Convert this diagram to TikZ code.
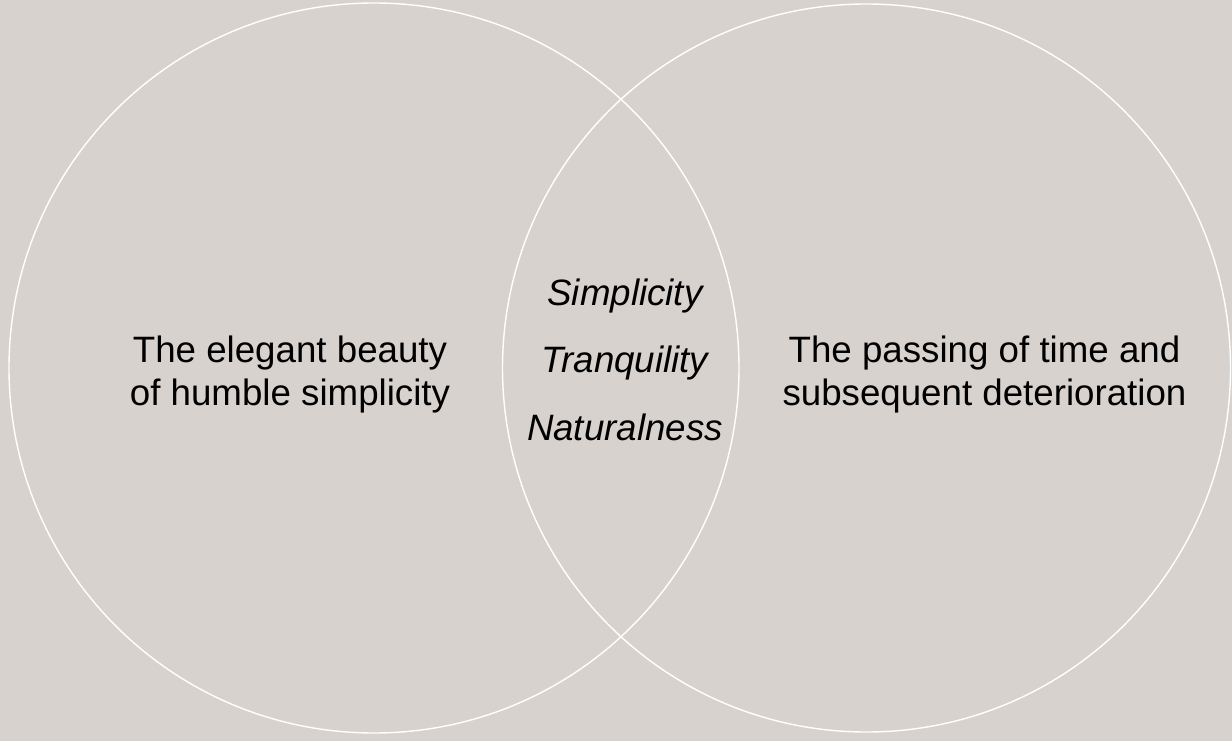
\documentclass[tikz,border=0pt]{standalone}
\usepackage{fontspec}
\setmainfont{Liberation Sans}
\definecolor{paper}{RGB}{216,210,206}
\begin{document}
\begin{tikzpicture}[x=1pt,y=-1pt,
    settext/.style={font=\fontsize{36.7}{42.2}\selectfont, align=center, inner sep=0pt, text=black},
    midtext/.style={font=\fontsize{36.7}{42.2}\selectfont\itshape, inner sep=0pt, anchor=base, text=black}]
                % Background
                \fill[paper] (0,0) rectangle (1232,741);
                \useasboundingbox (0,0) rectangle (1232,741);

                % Two sets
                \coordinate (leftc) at (374,368);
                \coordinate (rightc) at (866.5,368);
                \draw[white, line width=1.4pt] (leftc) circle (365);
                \draw[white, line width=1.4pt] (rightc) circle (364);

                % Texts of the sets
                \node[settext] (wabi) at (290,374.5) {The elegant beauty\\of humble simplicity};
                \node[settext] (sabi) at (984.5,374.5) {The passing of time and\\subsequent deterioration};

                % Shared ground
                \node[midtext] (simp) at (625,305.5) {Simplicity};
                \node[midtext] (tranq) at (625,372.5) {Tranquility};
                \node[midtext] (natur) at (625,440) {Naturalness};
\end{tikzpicture}
\end{document}
